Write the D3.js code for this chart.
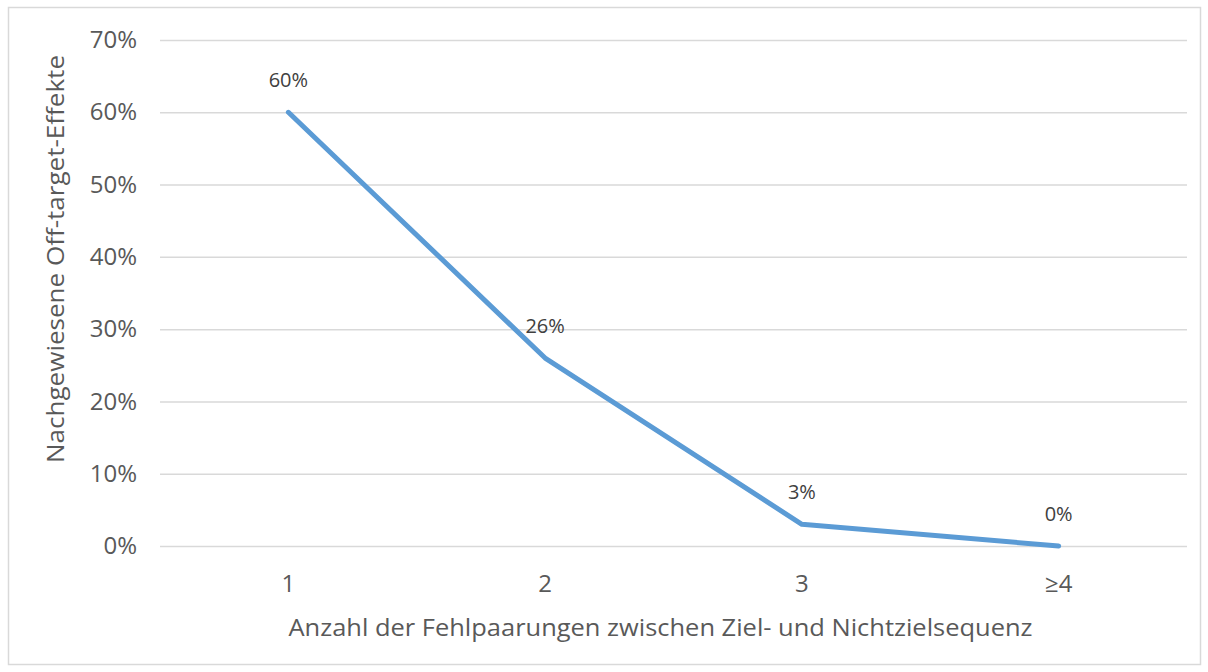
<!DOCTYPE html>
<html><head><meta charset="utf-8">
<script src="https://cdn.jsdelivr.net/npm/d3@7"></script>
<style>body{margin:0;background:#fff}svg{display:block}</style>
</head><body>
<script>
const categories = ["1", "2", "3", "≥4"];
const values = [0.60, 0.26, 0.03, 0.00];
const dataLabels = ["60%", "26%", "3%", "0%"];
const yTicks = [0, 0.1, 0.2, 0.3, 0.4, 0.5, 0.6, 0.7];
const xTitle = "Anzahl der Fehlpaarungen zwischen Ziel- und Nichtzielsequenz";
const yTitle = "Nachgewiesene Off-target-Effekte";

const W = 1208, H = 672;
const font = "'Open Sans', 'Noto Sans', sans-serif";
const svg = d3.select("body").append("svg").attr("width", W).attr("height", H);
svg.append("rect").attr("x", 8.5).attr("y", 7.5).attr("width", 1192).attr("height", 657)
  .attr("fill", "#fff").attr("stroke", "#d9d9d9").attr("stroke-width", 1.5);

const L = 160, R = 1187, T = 40, B = 546;
const x = d3.scaleBand().domain(categories).range([L, R]);
const y = d3.scaleLinear().domain([0, 0.7]).range([B, T]);

const yAxis = svg.append("g").attr("transform", `translate(${L},0)`)
  .call(d3.axisLeft(y).tickValues(yTicks).tickFormat(d3.format(".0%")).tickSize(-(R - L)).tickPadding(23));
yAxis.select(".domain").remove();
yAxis.selectAll(".tick line").attr("stroke", "#d9d9d9").attr("stroke-width", 1.5);
yAxis.selectAll(".tick text").attr("fill", "#595959").attr("font-family", font).attr("font-size", 24);

const xAxis = svg.append("g").attr("transform", `translate(0,${B})`)
  .call(d3.axisBottom(x).tickSize(0).tickPadding(29));
xAxis.select(".domain").remove();
xAxis.selectAll(".tick text").attr("fill", "#595959").attr("font-family", font).attr("font-size", 24);

const line = d3.line().x((d, i) => x(categories[i]) + x.bandwidth() / 2).y(d => y(d));
svg.append("path").datum(values).attr("d", line).attr("fill", "none")
  .attr("stroke", "#5b9bd5").attr("stroke-width", 5).attr("stroke-linecap", "round").attr("stroke-linejoin", "round");

svg.selectAll(".dl").data(values).enter().append("text")
  .attr("x", (d, i) => x(categories[i]) + x.bandwidth() / 2)
  .attr("y", d => y(d) - 25)
  .attr("text-anchor", "middle").attr("fill", "#404040").attr("font-family", font).attr("font-size", 20)
  .text((d, i) => dataLabels[i]);

svg.append("text").attr("x", (L + R) / 2 - 13).attr("y", 636).attr("text-anchor", "middle")
  .attr("fill", "#595959").attr("font-family", font).attr("font-size", 24)
  .attr("textLength", 744).attr("lengthAdjust", "spacingAndGlyphs").text(xTitle);

svg.append("text").attr("transform", `translate(64,259) rotate(-90)`).attr("text-anchor", "middle")
  .attr("fill", "#595959").attr("font-family", font).attr("font-size", 24)
  .attr("textLength", 408).attr("lengthAdjust", "spacingAndGlyphs").text(yTitle);
</script>
</body></html>
